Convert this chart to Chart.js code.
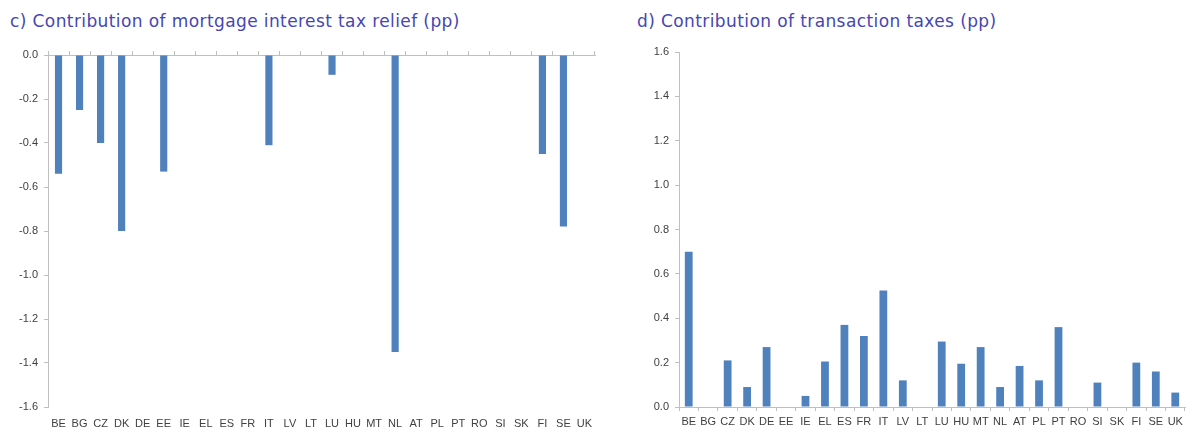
<!DOCTYPE html>
<html>
<head>
<meta charset="utf-8">
<script src="https://cdn.jsdelivr.net/npm/chart.js@4/dist/chart.umd.min.js"></script>
<style>
  body { margin: 0; background: #fff; width: 1190px; height: 430px; position: relative; overflow: hidden; }
  .title { position: absolute; font-family: "DejaVu Sans", sans-serif; font-size: 17px; letter-spacing: 0.4px; color: #4646b4; white-space: nowrap; }
  canvas { position: absolute; top: 0; }
</style>
</head>
<body>
<div class="title" id="t1" style="left:10px; top:11px;">c) Contribution of mortgage interest tax relief (pp)</div>
<div class="title" id="t2" style="left:637px; top:11px;">d) Contribution of transaction taxes (pp)</div>
<canvas id="mortgageChart" width="605" height="430" style="left:0px"></canvas>
<canvas id="transactionChart" width="560" height="430" style="left:630px"></canvas>
<script>
// country labels (same for both panels)
const countries = ['BE','BG','CZ','DK','DE','EE','IE','EL','ES','FR','IT','LV','LT','LU','HU','MT','NL','AT','PL','PT','RO','SI','SK','FI','SE','UK'];

// c) mortgage interest tax relief, pp
const mortgageRelief = [-0.54, -0.25, -0.40, -0.80, 0, -0.53, 0, 0, 0, 0, -0.41, 0, 0, -0.09, 0, 0, -1.35, 0, 0, 0, 0, 0, 0, -0.45, -0.78, 0];

// d) transaction taxes, pp
const transactionTaxes = [0.70, 0, 0.21, 0.09, 0.27, 0, 0.05, 0.205, 0.37, 0.32, 0.525, 0.12, 0, 0.295, 0.195, 0.27, 0.09, 0.185, 0.12, 0.36, 0, 0.11, 0, 0.20, 0.16, 0.065];

const barColor = '#4f81bd';
const axisColor = '#bfbfbf';
const tickFont = { family: '"Liberation Sans Narrow", "Liberation Sans", sans-serif', size: 11 };
const tickColor = '#404040';

const fmt = v => v.toFixed(1);

// left panel: negative bars hanging from the top axis, labels at the bottom
new Chart(document.getElementById('mortgageChart'), {
    type: 'bar',
    data: {
        labels: countries,
        datasets: [{
            data: mortgageRelief,
            backgroundColor: barColor,
            barPercentage: 0.34,
            categoryPercentage: 1.0,
            xAxisID: 'x'
        }]
    },
    options: {
        responsive: false,
        animation: false,
        layout: { padding: { top: 51, right: 10, bottom: 0, left: 0 } },
        plugins: { legend: { display: false }, tooltip: { enabled: false } },
        scales: {
            x: {
                position: 'bottom',
                border: { display: false },
                grid: { display: false },
                ticks: { color: tickColor, font: tickFont, maxRotation: 0, autoSkip: false, padding: 2 },
                afterFit: s => { s.height = 23; }
            },
            xTop: {
                position: 'top',
                type: 'category',
                labels: countries,
                border: { display: true, color: axisColor, width: 1 },
                grid: { offset: true, drawOnChartArea: false, drawTicks: true, tickLength: 4, color: axisColor },
                ticks: { display: false },
                afterFit: s => { s.height = 4; }
            },
            y: {
                min: -1.6,
                max: 0,
                border: { display: true, color: axisColor },
                grid: { drawOnChartArea: false, tickLength: 4, color: axisColor },
                ticks: { stepSize: 0.2, color: tickColor, font: tickFont, padding: 6, callback: fmt },
                afterFit: s => { s.width = 48; }
            }
        }
    }
});

// right panel: positive bars from the bottom axis
new Chart(document.getElementById('transactionChart'), {
    type: 'bar',
    data: {
        labels: countries,
        datasets: [{
            data: transactionTaxes,
            backgroundColor: barColor,
            barPercentage: 0.4,
            categoryPercentage: 1.0
        }]
    },
    options: {
        responsive: false,
        animation: false,
        layout: { padding: { top: 52, right: 5, bottom: 0, left: 0 } },
        plugins: { legend: { display: false }, tooltip: { enabled: false } },
        scales: {
            x: {
                border: { display: true, color: axisColor },
                grid: { offset: true, drawOnChartArea: false, tickLength: 4, color: axisColor },
                ticks: { color: tickColor, font: tickFont, maxRotation: 0, autoSkip: false, padding: 4 },
                afterFit: s => { s.height = 23; }
            },
            y: {
                min: 0,
                max: 1.6,
                border: { display: true, color: axisColor },
                grid: { drawOnChartArea: false, tickLength: 4, color: axisColor },
                ticks: { stepSize: 0.2, color: tickColor, font: tickFont, padding: 6, callback: fmt },
                afterFit: s => { s.width = 49; }
            }
        }
    }
});
</script>
</body>
</html>
